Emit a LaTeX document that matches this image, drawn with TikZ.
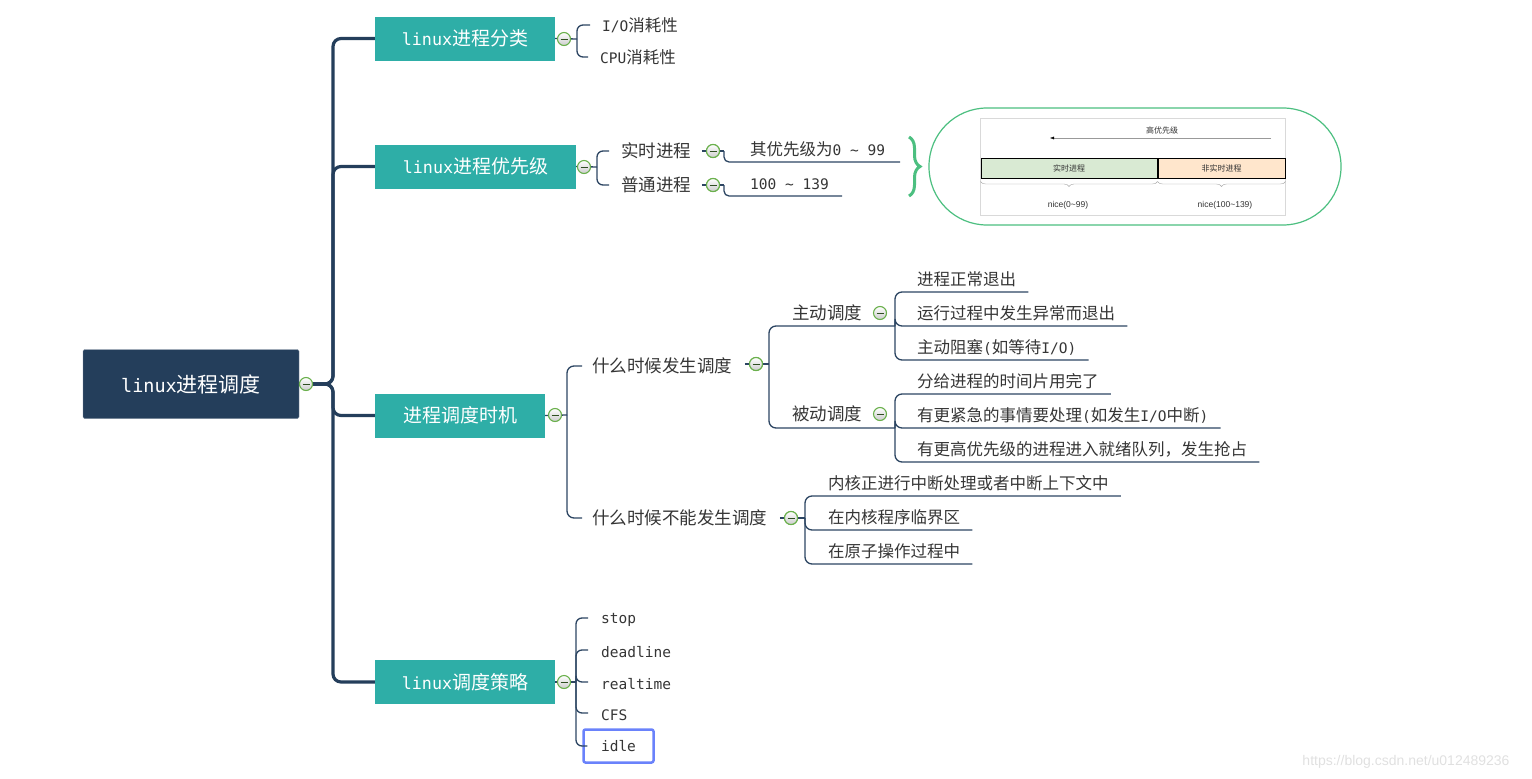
\documentclass[tikz,border=0pt]{standalone}
\usepackage{fontspec}
\setmainfont{Noto Sans CJK SC}
\newfontfamily\lat[Scale=0.88]{DejaVu Sans Mono}
\newfontfamily\capfont{Liberation Sans}
\usetikzlibrary{positioning, arrows.meta, decorations.pathreplacing}

\definecolor{navy}{HTML}{243E5B}
\definecolor{tealbox}{HTML}{2EAEA7}
\definecolor{twigc}{HTML}{2C4562}
\definecolor{foldg}{HTML}{6AB04C}
\definecolor{inkc}{HTML}{353535}
\definecolor{capg}{HTML}{4CBF80}
\definecolor{rtfill}{HTML}{D9EAD3}
\definecolor{nrfill}{HTML}{FFE6CC}
\definecolor{hlblue}{HTML}{6A82FB}

\tikzset{
  trunk/.style={line width=3.2pt, draw=navy, rounded corners=8pt},
  twig/.style={line width=1.3pt, draw=twigc, rounded corners=7pt},
  rootbox/.style={fill=navy, draw=navy!60, text=white, minimum width=216pt,
    minimum height=69pt, rounded corners=1.5pt, font=\fontsize{21}{21}\selectfont},
  topic/.style={fill=tealbox, text=white, minimum height=44pt, inner sep=0pt,
    font=\fontsize{19}{19}\selectfont},
  fold/.style={circle, draw=foldg, line width=1.1pt, top color=white,
    bottom color=black!20, minimum size=13pt, inner sep=0pt,
    path picture={\draw[foldg!45!black, line width=1pt]
      ([xshift=-3.5pt]path picture bounding box.center) --
      ([xshift=3.5pt]path picture bounding box.center);}},
  sub/.style={anchor=west, inner sep=0pt, text=inkc, font=\fontsize{17.5}{17.5}\selectfont},
  leaf/.style={anchor=west, inner sep=0pt, text=inkc, font=\fontsize{16.5}{16.5}\selectfont},
  tinyt/.style={inner sep=0pt, text=black!80, font=\capfont\fontsize{8.5}{8.5}\selectfont},
}

\begin{document}
\begin{tikzpicture}[x=1pt, y=-1pt]
\useasboundingbox (0,0) rectangle (1532,779);

% Root and main topics
\node[rootbox] (root) at (191,384) {{\lat linux}进程调度};
\node[topic, minimum width=180pt] (cls) at (465,38.5) {{\lat linux}进程分类};
\node[topic, minimum width=201pt] (prio) at (475.5,166.5) {{\lat linux}进程优先级};
\node[topic, minimum width=170pt] (when) at (460,415.5) {进程调度时机};
\node[topic, minimum width=180pt] (pol) at (465,682) {{\lat linux}调度策略};

\coordinate (tr) at (333,384);
\foreach \t in {cls,prio,when,pol}
  \draw[trunk] (root.east) -- (tr) |- (\t.west);

% Process classes
\node[leaf] (io) at (602,25) {{\lat I/O}消耗性};
\node[leaf] (cpu) at (600,57) {{\lat CPU}消耗性};
\coordinate (j1) at (577,39);
\draw[twig] (cls.east) -- (j1);
\foreach \c in {io,cpu}
  \draw[twig, rounded corners=6pt] (j1) |- ([xshift=-12pt]\c.west);

% Priorities
\node[sub] (rt) at (621,151) {实时进程};
\node[sub] (nt) at (621,185) {普通进程};
\coordinate (j2) at (597,167);
\draw[twig] (prio.east) -- (j2);
\foreach \c in {rt,nt}
  \draw[twig, rounded corners=6pt] (j2) |- ([xshift=-12pt]\c.west);
\node[leaf] (rtv) at (750,149) {其优先级为{\lat 0 \textasciitilde{} 99}};
\node[leaf] (ntv) at (750,184) {{\lat 100 \textasciitilde{} 139}};
\node[fold] (rtf) at (713,151) {};
\node[fold] (ntf) at (713,185) {};
\coordinate (k21) at (724,151);
\coordinate (k22) at (724,185);
\coordinate (u21) at (900,162);
\coordinate (u22) at (842,196);
\draw[twig] ([xshift=-4pt]rtf.west) -- (k21);
\draw[twig] ([xshift=-4pt]ntf.west) -- (k22);
\draw[twig, rounded corners=5pt] (k21) |- (u21);
\draw[twig, rounded corners=5pt] (k22) |- (u22);
\node[fold] at (rtf) {};
\node[fold] at (ntf) {};

% Priority picture
\draw[capg, line width=3pt, decorate, decoration={brace, amplitude=11pt}]
  (909,137) -- (909,196);
\draw[capg, line width=1.2pt, rounded corners=58pt] (929,108) rectangle (1341,225);
\draw[black!15, fill=white] (980,118) rectangle (1285,215);
\coordinate (ar1) at (1271,138);
\coordinate (ar2) at (1050,138);
\draw[black!40, -{Latex[length=4pt, width=3pt, black]}] (ar1) -- (ar2);
\node[tinyt, font=\fontsize{8}{8}\selectfont] (hp) at (1162,130) {高优先级};
\node[tinyt, draw=black, line width=1pt, fill=rtfill, minimum width=176pt,
  minimum height=20pt, font=\fontsize{8}{8}\selectfont] (rtbar) at (1069,168) {实时进程};
\node[tinyt, draw=black, line width=1pt, fill=nrfill, minimum width=127pt,
  minimum height=20pt, font=\fontsize{8}{8}\selectfont, right=0pt of rtbar] (nrbar) {非实时进程};
\draw[black!35, decorate, decoration={brace, amplitude=5pt}]
  ([yshift=-3pt]rtbar.south east) -- ([yshift=-3pt]rtbar.south west);
\draw[black!35, decorate, decoration={brace, amplitude=5pt}]
  ([yshift=-3pt]nrbar.south east) -- ([yshift=-3pt]nrbar.south west);
\node[tinyt] (n1) at (1068,205) {nice(0\textasciitilde99)};
\node[tinyt] (n2) at (1225,205) {nice(100\textasciitilde139)};

% Scheduling moments
\node[sub] (q1) at (592,366) {什么时候发生调度};
\node[sub] (q2) at (592,518) {什么时候不能发生调度};
\coordinate (j3) at (567,415);
\draw[twig] (when.east) -- (j3);
\foreach \c in {q1,q2}
  \draw[twig] (j3) |- ([xshift=-10pt]\c.west);

\node[sub] (zd) at (792,313) {主动调度};
\node[sub] (bd) at (792,414) {被动调度};
\node[fold] (q1f) at (756,364) {};
\node[fold] (q2f) at (791,518) {};
\coordinate (j31) at (769,364);
\coordinate (zdj) at (895,326);
\coordinate (bdj) at (895,428);
\draw[twig] ([xshift=-4pt]q1f.west) -- (j31);
\draw[twig] (j31) |- (zdj);
\draw[twig] (j31) |- (bdj);

\node[leaf] (a1) at (917,279) {进程正常退出};
\node[leaf] (a2) at (917,313) {运行过程中发生异常而退出};
\node[leaf] (a3) at (917,347) {主动阻塞{\lat (}如等待{\lat I/O)}};
\foreach \c in {a1,a2,a3}
  \draw[twig] (zdj) |- ([xshift=12pt, yshift=-13pt]\c.east);

\node[leaf] (b1) at (917,381) {分给进程的时间片用完了};
\node[leaf] (b2) at (917,415) {有更紧急的事情要处理{\lat (}如发生{\lat I/O}中断{\lat )}};
\node[leaf] (b3) at (917,449) {有更高优先级的进程进入就绪队列，发生抢占};
\foreach \c in {b1,b2,b3}
  \draw[twig] (bdj) |- ([xshift=12pt, yshift=-13pt]\c.east);

\node[leaf] (c1) at (828,483) {内核正进行中断处理或者中断上下文中};
\node[leaf] (c2) at (828,517) {在内核程序临界区};
\node[leaf] (c3) at (828,551) {在原子操作过程中};
\coordinate (j32) at (805,518);
\draw[twig] ([xshift=-4pt]q2f.west) -- (j32);
\foreach \c in {c1,c2,c3}
  \draw[twig] (j32) |- ([xshift=12pt, yshift=-13pt]\c.east);

% Scheduling policies
\node[leaf] (s1) at (601,620) {{\lat stop}};
\node[leaf] (s2) at (601,652) {{\lat deadline}};
\node[leaf] (s3) at (601,684) {{\lat realtime}};
\node[leaf] (s4) at (601,715) {{\lat CFS}};
\node[leaf, anchor=center, draw=hlblue, line width=2.5pt, rounded corners=2pt,
  minimum width=70pt, minimum height=33pt] (s5) at (618.5,746) {{\lat idle}};
\coordinate (j4) at (576,682);
\draw[twig] (pol.east) -- (j4);
\foreach \c in {s1,s2,s3,s4}
  \draw[twig, rounded corners=6pt] (j4) |- ([xshift=-13pt, yshift=2pt]\c.west);
\draw[twig, rounded corners=6pt] (j4) |- ([xshift=5pt]s5.west);

% Fold markers
\node[fold] (rootf) at (306,384) {};
\node[fold] (clsf) at (564,39) {};
\node[fold] (priof) at (584,167) {};
\node[fold] (whenf) at (555,415) {};
\node[fold] (polf) at (564,682) {};
\node[fold] at (q1f) {};
\node[fold] at (q2f) {};
\node[fold] (zdf) at (880,313) {};
\node[fold] (bdf) at (880,414) {};

\node[text=black!12, font=\capfont\fontsize{14}{14}\selectfont] (wm) at (1406,762)
  {https://blog.csdn.net/u012489236};
\end{tikzpicture}
\end{document}
